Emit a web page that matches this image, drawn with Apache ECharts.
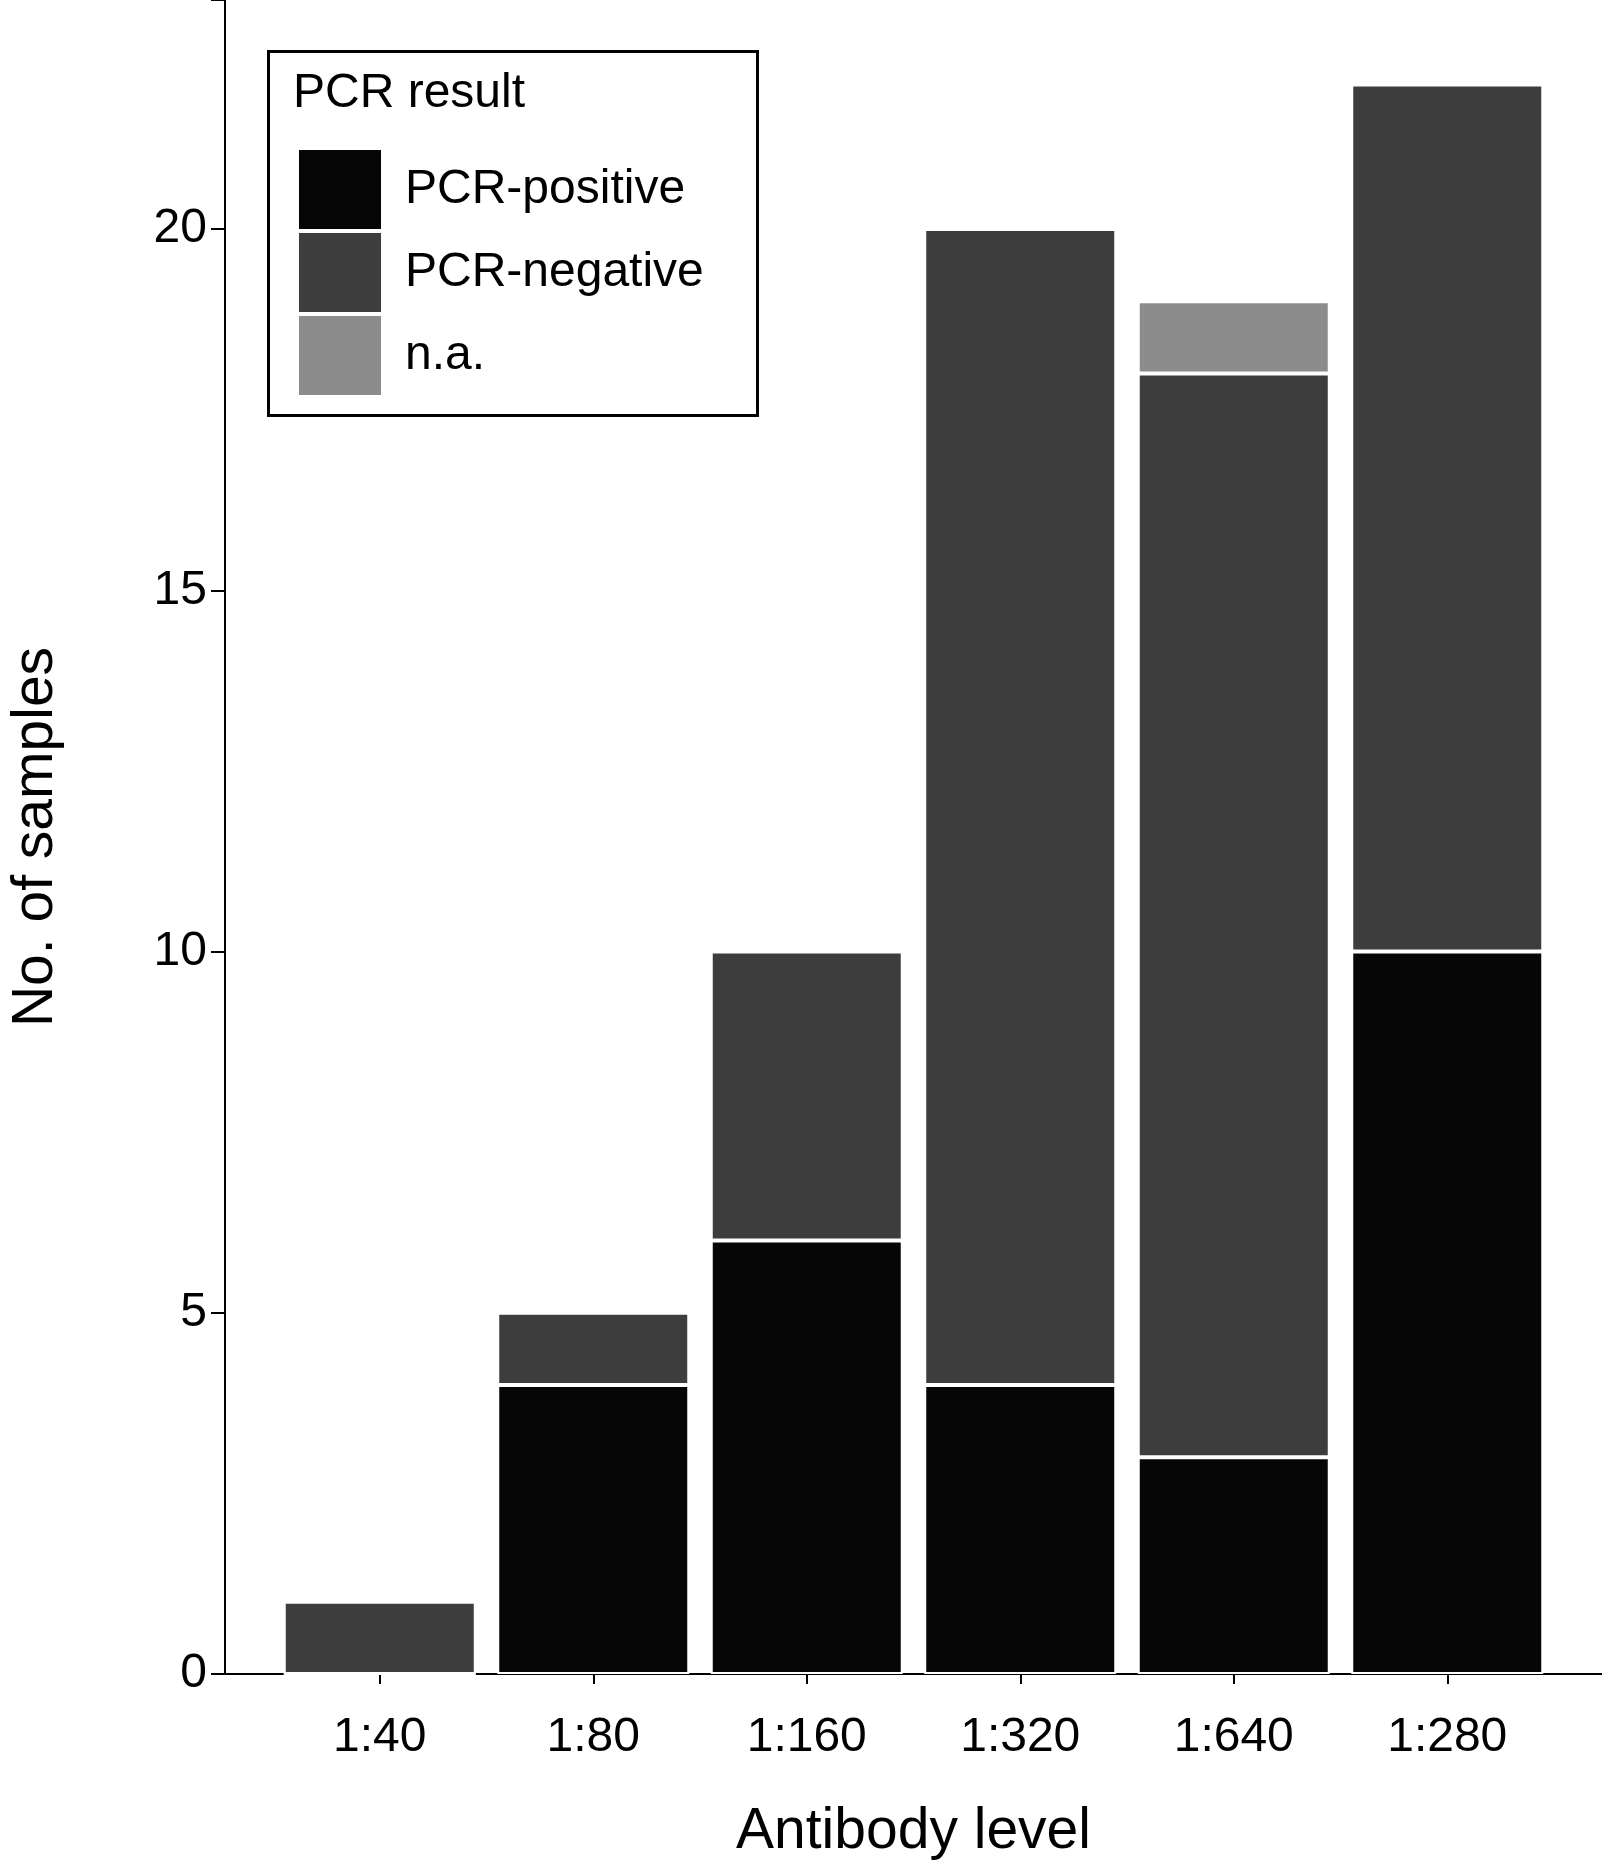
<!DOCTYPE html>
<html><head><meta charset="utf-8">
<script src="https://cdn.jsdelivr.net/npm/echarts@6/dist/echarts.min.js"></script>
<style>html,body{margin:0;padding:0;background:#fff}#c{width:1602px;height:1871px}</style>
</head><body><div id="c"></div>
<script>
const categories = ['1:40','1:80','1:160','1:320','1:640','1:280'];
const pcrPositive = [0, 4, 6, 4, 3, 10];
const pcrNegative = [1, 1, 4, 16, 15, 12];
const notAvailable = [0, 0, 0, 0, 1, 0];
const yTicks = [0, 5, 10, 15, 20];

const font = 'Liberation Sans';
const chart = echarts.init(document.getElementById('c'));
const barStyle = c => ({color: c, borderColor: '#ffffff', borderWidth: 2});
chart.setOption({
  animation: false,
  textStyle: {fontFamily: font},
  grid: [
    {left: 221, right: 0, top: 0, bottom: 197},
    {left: 273, width: 1281, top: 0, bottom: 197}
  ],
  xAxis: [
    {type: 'value', gridIndex: 0, min: 0, max: 1, axisLine: {show: true, lineStyle: {color: '#000', width: 2}},
     axisTick: {show: false}, axisLabel: {show: false}, splitLine: {show: false},
     name: 'Antibody level', nameLocation: 'middle', nameGap: 130,
     nameTextStyle: {fontSize: 57, color: '#000', fontFamily: font}},
    {type: 'category', gridIndex: 1, data: categories, axisLine: {show: false},
     axisTick: {show: true, alignWithLabel: true, length: 10, lineStyle: {color: '#000', width: 2}},
     axisLabel: {fontSize: 48, color: '#000', margin: 40}}
  ],
  yAxis: [
    {type: 'value', gridIndex: 0, min: 0, max: 23.17, interval: 5,
     axisLine: {show: true, lineStyle: {color: '#000', width: 2}},
     axisTick: {show: true, length: 14, lineStyle: {color: '#000', width: 2}},
     axisLabel: {fontSize: 48, color: '#000', margin: 18, formatter: v => yTicks.includes(v) ? String(v) : ''},
     splitLine: {show: false},
     name: 'No. of samples', nameLocation: 'middle', nameGap: 160, nameRotate: 90,
     nameTextStyle: {fontSize: 57, color: '#000', fontFamily: font}},
    {type: 'value', gridIndex: 1, min: 0, max: 23.17, show: false, splitLine: {show: false}}
  ],
  legend: {
    left: 292, top: 143, orient: 'vertical', itemWidth: 84, itemHeight: 81, itemGap: 0,
    icon: 'rect', textStyle: {fontSize: 48, color: '#000', padding: [0, 0, 0, 18]},
    data: ['PCR-positive', 'PCR-negative', 'n.a.']
  },
  graphic: [
    {type: 'rect', left: 267, top: 50, shape: {width: 489, height: 364},
     style: {fill: '#fff', stroke: '#000', lineWidth: 3}, z: 0},
    {type: 'text', left: 293, top: 70, style: {text: 'PCR result', fontSize: 48, fill: '#000', fontFamily: font}, z: 10}
  ],
  series: [
    {name: 'PCR-positive', type: 'bar', stack: 's', xAxisIndex: 1, yAxisIndex: 1, barWidth: 192, data: pcrPositive, itemStyle: barStyle('#060606')},
    {name: 'PCR-negative', type: 'bar', stack: 's', xAxisIndex: 1, yAxisIndex: 1, barWidth: 192, data: pcrNegative, itemStyle: barStyle('#3d3d3d')},
    {name: 'n.a.', type: 'bar', stack: 's', xAxisIndex: 1, yAxisIndex: 1, barWidth: 192, data: notAvailable, itemStyle: barStyle('#8c8c8c')}
  ]
});
</script></body></html>
